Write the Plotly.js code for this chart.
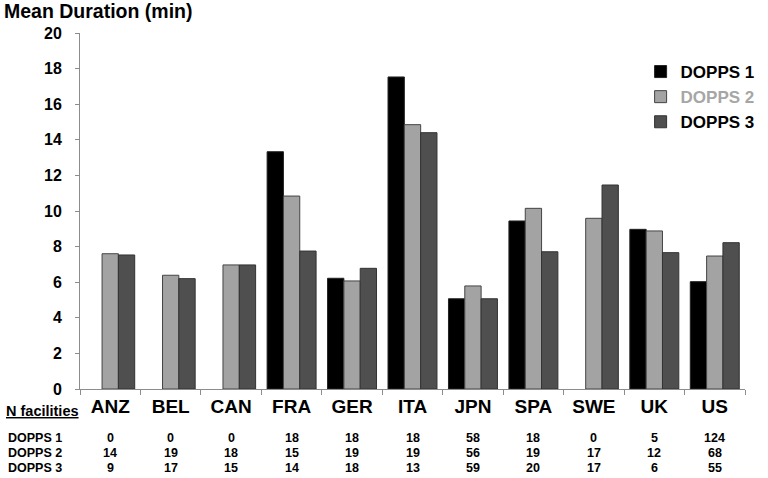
<!DOCTYPE html>
<html><head><meta charset="utf-8">
<script src="https://cdn.plot.ly/plotly-3.0.1.min.js"></script>
<style>html,body{margin:0;padding:0;background:#fff}#chart{width:768px;height:478px}</style>
</head><body><div id="chart"></div>
<script>
const countries = ['ANZ','BEL','CAN','FRA','GER','ITA','JPN','SPA','SWE','UK','US'];
const dopps1 = [null, null, null, 13.33, 6.22, 17.53, 5.07, 9.44, null, 8.97, 6.03];
const dopps2 = [7.6, 6.39, 6.97, 10.84, 6.07, 14.85, 5.79, 10.15, 9.59, 8.88, 7.47];
const dopps3 = [7.53, 6.2, 6.97, 7.75, 6.78, 14.4, 5.07, 7.71, 11.46, 7.66, 8.22];
const n1 = [0, 0, 0, 18, 18, 18, 58, 18, 0, 5, 124];
const n2 = [14, 19, 18, 15, 19, 19, 56, 19, 17, 12, 68];
const n3 = [9, 17, 15, 14, 18, 13, 59, 20, 17, 6, 55];
const rowLabels = ['DOPPS 1', 'DOPPS 2', 'DOPPS 3'];
const yTicks = [0,2,4,6,8,10,12,14,16,18,20];

const FONT = 'Arial, "Liberation Sans", sans-serif';
const traces = [
  {type:'bar', x:countries, y:dopps1, name:'<b>DOPPS 1</b>', legendgroup:'a',
   marker:{color:'#000000', line:{color:'#222222', width:1}}},
  {type:'bar', x:countries, y:dopps2, name:'<b><span style="color:#a6a6a6">DOPPS 2</span></b>', legendgroup:'b',
   marker:{color:'#a3a3a3', line:{color:'#444444', width:1}}},
  {type:'bar', x:countries, y:dopps3, name:'<b>DOPPS 3</b>', legendgroup:'c',
   marker:{color:'#4f4f4f', line:{color:'#333333', width:1}}}
];

const rows = [n1, n2, n3];
const rowY = [-0.1376, -0.1798, -0.2219];
const annotations = [
  {text:'<b>Mean Duration (min)</b>', xref:'paper', yref:'paper', x:-80/680, y:1.0, yshift:22,
   xanchor:'left', yanchor:'middle', showarrow:false, font:{size:19.5, color:'#000', family:FONT}},
  {text:'<b><span style="text-decoration:underline">N facilities</span></b>', xref:'paper', yref:'paper',
   x:-78/680, y:-22/356, xanchor:'left', yanchor:'middle', showarrow:false,
   font:{size:14.5, color:'#000', family:FONT}}
];
rows.forEach((r, ri) => {
  annotations.push({text:'<b>'+rowLabels[ri]+'</b>', xref:'paper', yref:'paper', x:-76/680, y:rowY[ri],
    xanchor:'left', yanchor:'middle', showarrow:false, font:{size:12.5, color:'#000', family:FONT}});
  r.forEach((v, ci) => {
    annotations.push({text:'<b>'+v+'</b>', xref:'x', yref:'paper', x:countries[ci], y:rowY[ri],
      xanchor:'center', yanchor:'middle', showarrow:false, font:{size:12.5, color:'#000', family:FONT}});
  });
});

const layout = {
  width:768, height:478,
  margin:{l:80, r:8, t:33, b:89},
  paper_bgcolor:'#fff', plot_bgcolor:'#fff',
  font:{family:FONT, color:'#000'},
  barmode:'group', bargap:0.19, bargroupgap:0,
  showlegend:true,
  legend:{x:0.843, y:0.941, xanchor:'left', yanchor:'top', bgcolor:'rgba(0,0,0,0)',
          font:{size:17, color:'#000', family:FONT}, traceorder:'grouped', tracegroupgap:0, itemwidth:30},
  xaxis:{type:'category', showline:true, linecolor:'#8c8c8c', linewidth:1,
         ticks:'outside', tickson:'boundaries', ticklen:5, tickcolor:'#8c8c8c',
         tickfont:{size:19, color:'#000', family:FONT}, showgrid:false, zeroline:false,
         tickvals:countries, ticktext:countries.map(c=>'<b>'+c+'</b>')},
  yaxis:{range:[0,20], showline:true, linecolor:'#8c8c8c', linewidth:1,
         ticks:'outside', ticklen:4, tickcolor:'#8c8c8c', tickvals:yTicks, ticklabelstandoff:10,
         ticktext:yTicks.map(t=>'<b>'+t+'</b>'),
         tickfont:{size:16, color:'#000', family:FONT}, showgrid:false, zeroline:false},
  annotations:annotations
};
Plotly.newPlot('chart', traces, layout, {displayModeBar:false, staticPlot:true});
</script></body></html>
